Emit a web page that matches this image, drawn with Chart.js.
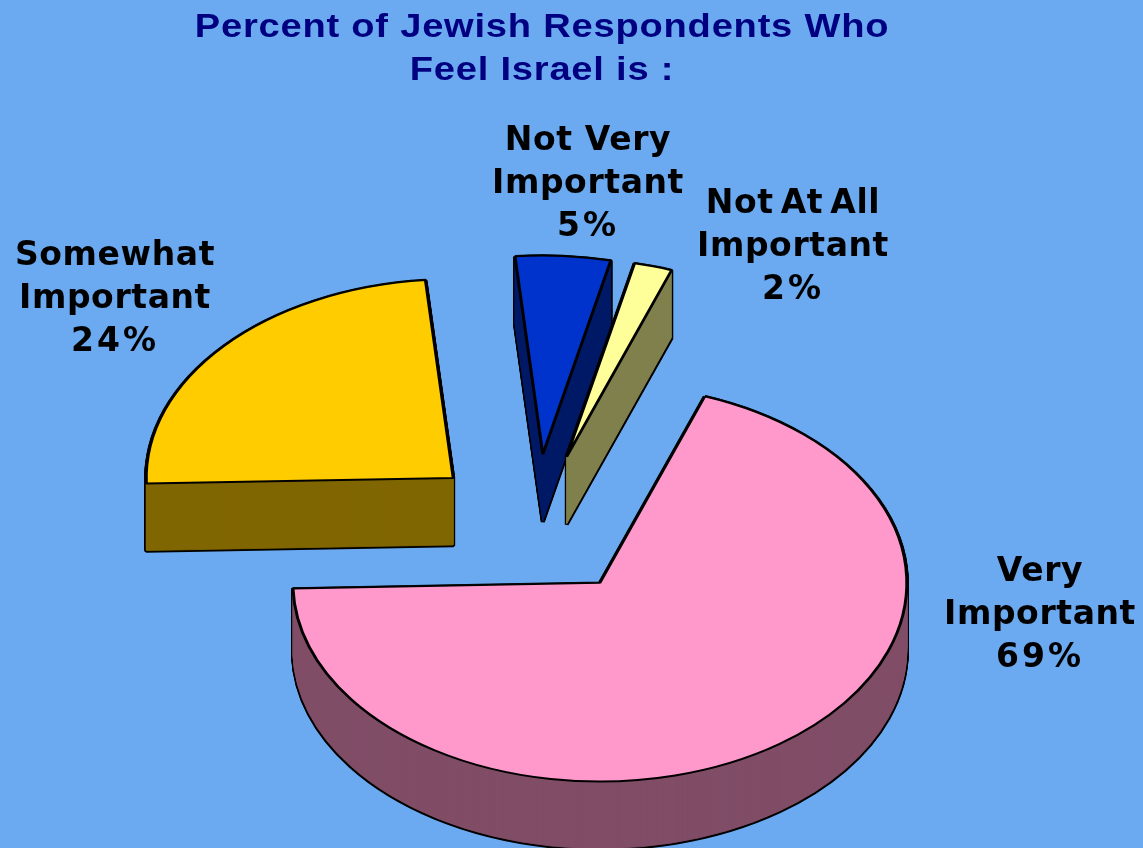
<!DOCTYPE html>
<html>
<head>
<meta charset="utf-8">
<style>
  html, body { margin: 0; padding: 0; background: #6BAAF0; overflow: hidden; }
  #wrap { width: 1143px; height: 848px; }
</style>
</head>
<body>
<div id="wrap"><canvas id="canvas" width="1143" height="848"></canvas></div>
<script src="https://cdn.jsdelivr.net/npm/chart.js@4/dist/chart.umd.js"></script>
<script>
const categories = ['Very Important', 'Somewhat Important', 'Not Very Important', 'Not At All Important'];
const percents = [69, 24, 5, 2];
const titleLines = ['Percent of Jewish Respondents Who', 'Feel Israel is :'];

const topColors = ['#FF99CC', '#FFCC00', '#0033CC', '#FFFF99'];
const sideColors = ['#804D66', '#806600', '#001A66', '#80804D'];

// label lines, and x / baseline of the middle line
const labelLines = [['Very', 'Important', '69%'], ['Somewhat', 'Important', '24%'], ['Not Very', 'Important', '5%'], ['Not At All', 'Important', '2%']];
const labelPos = [[1040, 624], [115, 308], [588, 193], [793, 256]];

const squash = 0.647;
const depth = 67;
const explode = 110;
const edge = 3;
const drawOrder = [2, 3, 1, 0];

// draws the arc squashed into an ellipse, exploded along its mid angle and pushed down by d pixels
function drawArc(ctx, el, opts, d) {
  const saved = el.options;
  const mid = (el.startAngle + el.endAngle) / 2;
  el.options = Object.assign({}, saved, opts);
  ctx.save();
  ctx.translate(el.x, el.y + d);
  ctx.scale(1, squash);
  ctx.translate(-el.x + Math.cos(mid) * explode, -el.y + Math.sin(mid) * explode);
  el.draw(ctx);
  ctx.restore();
  el.options = saved;
}

const pie3d = {
  id: 'pie3d',
  afterLayout(chart) {
    // the title in the picture is stretched sideways and sits right of the pie centre
    const block = chart.titleBlock;
    const drawTitle = block.draw;
    const pivot = (block.left + block.right) / 2;
    block.draw = function () {
      const ctx = chart.ctx;
      ctx.save();
      ctx.letterSpacing = '0.7px';
      ctx.translate(pivot + 6.5, 0);
      ctx.scale(1.12, 1);
      ctx.translate(-pivot, 0);
      drawTitle.call(block, ctx);
      ctx.restore();
    };
  },
  beforeDatasetsDraw(chart) {
    const ctx = chart.ctx;
    const arcs = chart.getDatasetMeta(0).data;
    drawOrder.forEach(i => {
      const el = arcs[i];
      // black silhouette first, side colour on top leaves only the outline
      for (let d = depth + 1; d >= 0; d--) {
        drawArc(ctx, el, { backgroundColor: '#000', borderColor: '#000', borderWidth: edge + 1 }, d);
      }
      // thin stroke in the side colour so no black seeps through between layers
      for (let d = depth; d >= 0; d--) {
        drawArc(ctx, el, { backgroundColor: sideColors[i], borderColor: sideColors[i], borderWidth: 1 }, d);
      }
      drawArc(ctx, el, { backgroundColor: topColors[i], borderColor: '#000', borderWidth: edge }, 0);
    });
    return false;
  },
  afterDraw(chart) {
    const ctx = chart.ctx;
    ctx.save();
    ctx.fillStyle = '#000';
    ctx.font = 'bold 33px "DejaVu Sans"';
    ctx.textAlign = 'center';
    ctx.textBaseline = 'alphabetic';
    labelLines.forEach((lines, i) => {
      lines.forEach((t, j) => {
        // percents run wider in the picture, "Not At All" has tight word gaps
        ctx.letterSpacing = j === 2 ? '3px' : '0.6px';
        ctx.wordSpacing = i === 3 ? '-5px' : '0px';
        ctx.fillText(t, labelPos[i][0], labelPos[i][1] + (j - 1) * 43);
      });
    });
    ctx.restore();
  }
};

new Chart(document.getElementById('canvas'), {
  type: 'pie',
  data: {
    labels: categories,
    datasets: [{
      data: percents,
      backgroundColor: topColors,
      borderColor: '#000',
      borderWidth: edge
    }]
  },
  options: {
    responsive: false,
    animation: false,
    rotation: 20,
    radius: 307,
    layout: { padding: { right: 72 } },
    plugins: {
      legend: { display: false },
      tooltip: { enabled: false },
      title: {
        display: true,
        text: titleLines,
        color: '#000080',
        font: { family: '"Liberation Sans"', size: 34, weight: 'bold', lineHeight: 1.27 },
        padding: { top: 6, bottom: 110 }
      }
    }
  },
  plugins: [pie3d]
});
</script>
</body>
</html>
